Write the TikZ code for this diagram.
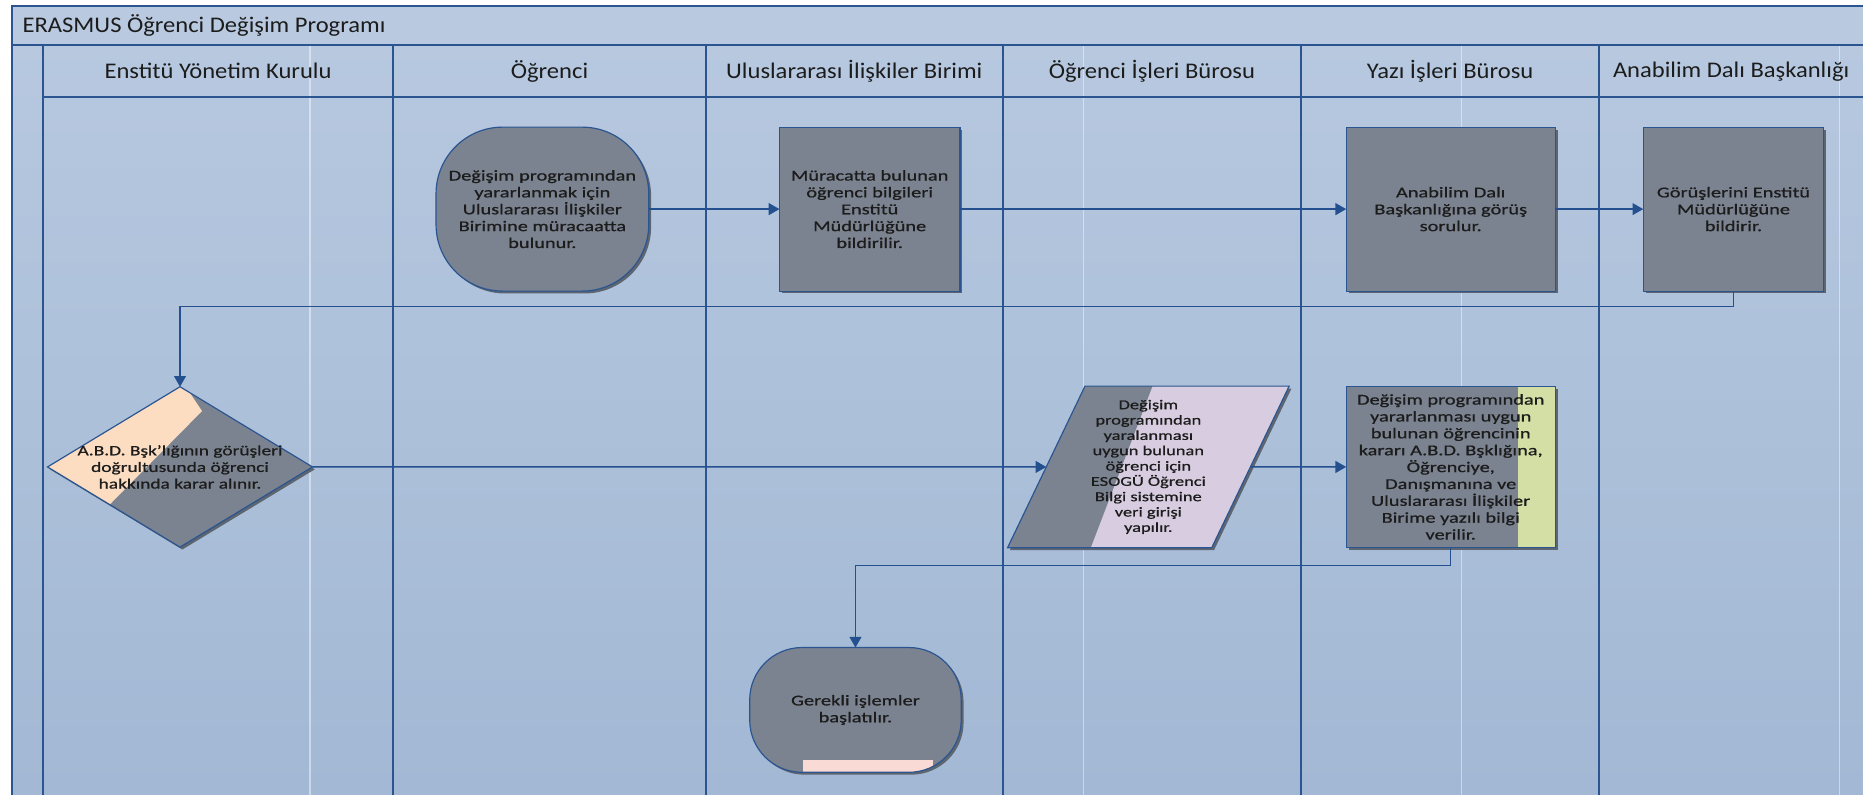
\documentclass[tikz,border=0pt]{standalone}
\usepackage{fontspec}
\setmainfont{Carlito}
\newfontfamily\headfont[FakeStretch=1.1]{Carlito}
\newfontfamily\boxfont[FakeStretch=1.36,FakeBold=0.8]{Carlito}
\usepackage{xcolor}
\usetikzlibrary{calc}
\usetikzlibrary{positioning}
\usetikzlibrary{shapes.geometric}
\usetikzlibrary{arrows.meta}
\usetikzlibrary{shadows}

\definecolor{poolTop}{HTML}{B8C9E0}
\definecolor{poolBottom}{HTML}{A2B8D4}
\definecolor{laneBlue}{HTML}{2A5591}
\definecolor{flowBlue}{HTML}{24508F}
\definecolor{boxGrey}{HTML}{7B8390}
\definecolor{shadowGrey}{HTML}{5D6570}
\definecolor{peach}{HTML}{FCDDC2}
\definecolor{lilac}{HTML}{D8CDE0}
\definecolor{lime}{HTML}{D3DFA5}
\definecolor{blush}{HTML}{F9DAD5}
\definecolor{textDark}{HTML}{1C1C1C}

\tikzset{
  lane/.style={draw=laneBlue,line width=0.9pt},
  faint/.style={draw=white,opacity=0.45,line width=0.6pt},
  head/.style={font=\headfont\fontsize{9.4}{11}\selectfont,text=textDark},
  stepbox/.style={rectangle,draw=laneBlue,line width=0.5pt,fill=boxGrey,
    outer sep=0pt,inner sep=2pt,align=center,text=textDark,
    font=\boxfont\fontsize{6.3}{7.1}\selectfont,
    drop shadow={shadow xshift=1pt,shadow yshift=-1pt,fill=shadowGrey,opacity=1}},
  endbox/.style={stepbox,rounded corners=#1},
  decision/.style={stepbox,diamond,aspect=1.65,inner sep=-4pt,
    font=\boxfont\fontsize{6}{7}\selectfont},
  databox/.style={stepbox,trapezium,trapezium left angle=60,trapezium right angle=120,
    trapezium stretches body,inner sep=0pt,fill=lilac,
    font=\boxfont\fontsize{5.7}{6.45}\selectfont},
  flow/.style={draw=flowBlue,line width=0.6pt,-{Triangle[length=4.5pt,width=5pt]}},
}

\begin{document}
\begin{tikzpicture}[x=0.5pt,y=-0.5pt]
  \useasboundingbox (0,0) rectangle (1568,669);
  % pool and lanes
  \shade[top color=poolTop,bottom color=poolBottom] (10,5) rectangle (1568,669);
  \fill[poolTop] (10,5) rectangle (1568,38);
  \foreach \x in {261,912,1230,1548}
    \draw[faint] (\x,38) -- (\x,669);
  \draw[lane] (10,669) -- (10,5) -- (1568,5);
  \draw[lane] (10,38) -- (1568,38);
  \draw[lane] (36,82) -- (1568,82);
  \foreach \x in {36,331,594,844,1095,1346}
    \draw[lane] (\x,38) -- (\x,669);

  \node[head,anchor=west] (title) at (12,21.5) {ERASMUS Öğrenci Değişim Programı};
  \node[head] (eyk) at (183.5,60) {Enstitü Yönetim Kurulu};
  \node[head] (ogrl) at (462.5,60) {Öğrenci};
  \node[head] (uib) at (719,60) {Uluslararası İlişkiler Birimi};
  \node[head] (oib) at (969.5,60) {Öğrenci İşleri Bürosu};
  \node[head] (yib) at (1220.5,60) {Yazı İşleri Bürosu};
  \node[head] (adb) at (1457,60) {Anabilim Dalı Başkanlığı};

  % colour split points
  \coordinate (k1) at (156,325);
  \coordinate (k2) at (170,346);
  \coordinate (k3) at (93,424);
  \coordinate (k4) at (40,424);
  \coordinate (p1) at (970,325);
  \coordinate (p2) at (918,461);
  \coordinate (b1) at (1278,325);
  \coordinate (s1) at (676,640);
  \coordinate (s2) at (785,660);

  % steps
  \node[endbox=28pt,minimum width=89.5pt,minimum height=69pt] (basvuru) at (456.5,176)
    {Değişim programından\\yararlanmak için\\Uluslararası İlişkiler\\Birimine müracaatta\\bulunur.};
  \node[stepbox,minimum width=76pt,minimum height=69pt] (bildir) at (732,176)
    {Müracatta bulunan\\öğrenci bilgileri\\Enstitü\\Müdürlüğüne\\bildirilir.};
  \node[stepbox,minimum width=88pt,minimum height=69pt] (gorus) at (1221,176)
    {Anabilim Dalı\\Başkanlığına görüş\\sorulur.};
  \node[stepbox,minimum width=76pt,minimum height=69pt] (cevap) at (1459,176)
    {Görüşlerini Enstitü\\Müdürlüğüne\\bildirir.};
  \node[decision,minimum width=111.5pt,minimum height=67.5pt,
    path picture={\fill[peach] (path picture bounding box.north west) -- (k1) -- (k2) -- (k3) -- (k4) -- cycle;}]
    (karar) at (151.5,393)
    {A.B.D. Bşk’lığının görüşleri\\doğrultusunda öğrenci\\hakkında karar alınır.};
  \node[databox,minimum width=118.5pt,minimum height=68pt,
    path picture={\fill[boxGrey] (path picture bounding box.north west) -- (p1) -- (p2) -- (path picture bounding box.south west) -- cycle;}]
    (veri) at (966.5,393)
    {Değişim\\programından\\yaralanması\\uygun bulunan\\öğrenci için\\ESOGÜ Öğrenci\\Bilgi sistemine\\veri girişi\\yapılır.};
  \node[stepbox,minimum width=88pt,minimum height=68pt,
    path picture={\fill[lime] (b1) rectangle (path picture bounding box.south east);}]
    (yazi) at (1221,393)
    {Değişim programından\\yararlanması uygun\\bulunan öğrencinin\\kararı A.B.D. Bşklığına,\\Öğrenciye,\\Danışmanına ve\\Uluslararası İlişkiler\\Birime yazılı bilgi\\verilir.};
  \node[endbox=22pt,minimum width=89pt,minimum height=52.5pt,
    path picture={\fill[blush,sharp corners] (s1) rectangle (s2);}]
    (islem) at (720,597.5)
    {Gerekli işlemler\\başlatılır.};

  % connectors
  \draw[flow] (basvuru) -- (bildir);
  \draw[flow] (bildir) -- (gorus);
  \draw[flow] (gorus) -- (cevap);
  \draw[flow] (cevap.south) -- ++(0,13) -| (karar.north);
  \draw[flow] (karar) -- (veri);
  \draw[flow] (veri) -- (yazi);
  \draw[flow] (yazi.south) -- ++(0,15) -| (islem.north);
\end{tikzpicture}
\end{document}
